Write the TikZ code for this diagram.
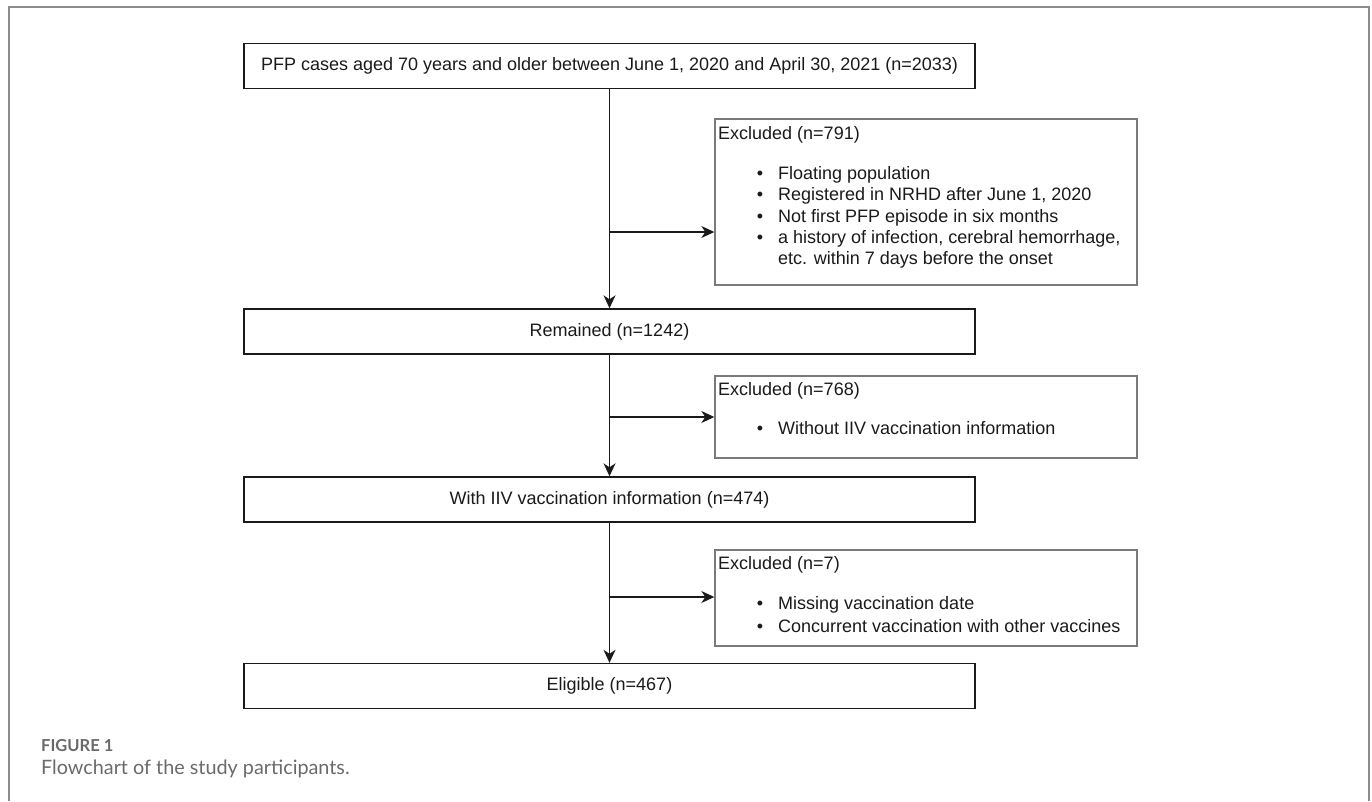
\documentclass[tikz,border=0pt]{standalone}
\usepackage{fontspec}
\setmainfont{Liberation Sans}
\newfontfamily\capfont{Lato}
\usetikzlibrary{arrows.meta}
\definecolor{framegray}{HTML}{8C8C8C}
\definecolor{exgray}{HTML}{7A7A7A}
\definecolor{ink}{HTML}{1A1A1A}
\definecolor{capgray}{HTML}{6A6A6A}
\begin{document}
\begin{tikzpicture}[x=1pt,y=-1pt,
  font=\fontsize{18}{21.5}\selectfont, text=ink,
  mainbox/.style={draw=ink, line width=1.4pt, minimum width=731pt, minimum height=45pt, inner sep=0pt},
  exbox/.style={draw=exgray, line width=1.4pt, inner sep=0pt, minimum width=422pt},
  arr/.style={draw=ink, line width=1.4pt, -{Stealth[length=13pt,width=12pt,inset=4pt]}},
  txt/.style={anchor=base west, inner sep=0pt},
  bul/.style={anchor=base, inner sep=0pt}]
\useasboundingbox (0,0) rectangle (1372,801);
% outer frame
\draw[framegray, line width=2.5pt] (9,801) -- (9,7) -- (1369,7) -- (1369,801);

% main boxes
\node[mainbox] (b1) at (609.5,66) {PFP cases aged 70 years and older between June 1, 2020 and April 30, 2021 (n=2033)};
\node[mainbox] (b2) at (609.5,331.5) {Remained (n=1242)};
\node[mainbox] (b3) at (609.5,499.5) {With IIV vaccination information (n=474)};
\node[mainbox] (b4) at (609.5,686) {Eligible (n=467)};

% exclusion boxes
\node[exbox, minimum height=166pt] (e1) at (926,202) {};
\node[exbox, minimum height=82pt] (e2) at (926,417) {};
\node[exbox, minimum height=96pt] (e3) at (926,598) {};

% exclusion 1 text
\node[txt] (e1h) at (718,139.5) {Excluded (n=791)};
\node[bul] (e1b1) at (760,179.5) {•};
\node[txt] (e1t1) at (778,179.5) {Floating population};
\node[bul] (e1b2) at (760,200.8) {•};
\node[txt] (e1t2) at (778,200.8) {Registered in NRHD after June 1, 2020};
\node[bul] (e1b3) at (760,222.1) {•};
\node[txt] (e1t3) at (778,222.1) {Not first PFP episode in six months};
\node[bul] (e1b4) at (760,243.4) {•};
\node[txt] (e1t4) at (778,243.4) {a history of infection, cerebral hemorrhage,};
\node[txt] (e1t5) at (778,264.7) {etc. within 7 days before the onset};

% exclusion 2 text
\node[txt] (e2h) at (718,395.5) {Excluded (n=768)};
\node[bul] (e2b1) at (760,434.5) {•};
\node[txt] (e2t1) at (778,434.5) {Without IIV vaccination information};

% exclusion 3 text
\node[txt] (e3h) at (718,569.5) {Excluded (n=7)};
\node[bul] (e3b1) at (760,609.5) {•};
\node[txt] (e3t1) at (778,609.5) {Missing vaccination date};
\node[bul] (e3b2) at (760,632.5) {•};
\node[txt] (e3t2) at (778,632.5) {Concurrent vaccination with other vaccines};

% connectors
\draw[arr] (b1.south) -- (b2.north);
\draw[arr] (b2.south) -- (b3.north);
\draw[arr] (b3.south) -- (b4.north);
\coordinate (j1) at (609.5,232);
\coordinate (j2) at (609.5,417);
\coordinate (j3) at (609.5,597);
\draw[arr] (j1) -- (j1 -| e1.west);
\draw[arr] (j2) -- (j2 -| e2.west);
\draw[arr] (j3) -- (j3 -| e3.west);

% caption
\node[anchor=base west, inner sep=0pt, text=capgray, font=\capfont\bfseries\fontsize{16.5}{19}\selectfont] (cap1) at (41,751) {FIGURE 1};
\node[anchor=base west, inner sep=0pt, text=capgray, font=\capfont\fontsize{19.8}{23}\selectfont] (cap2) at (41,774) {Flowchart of the study participants.};
\end{tikzpicture}
\end{document}
